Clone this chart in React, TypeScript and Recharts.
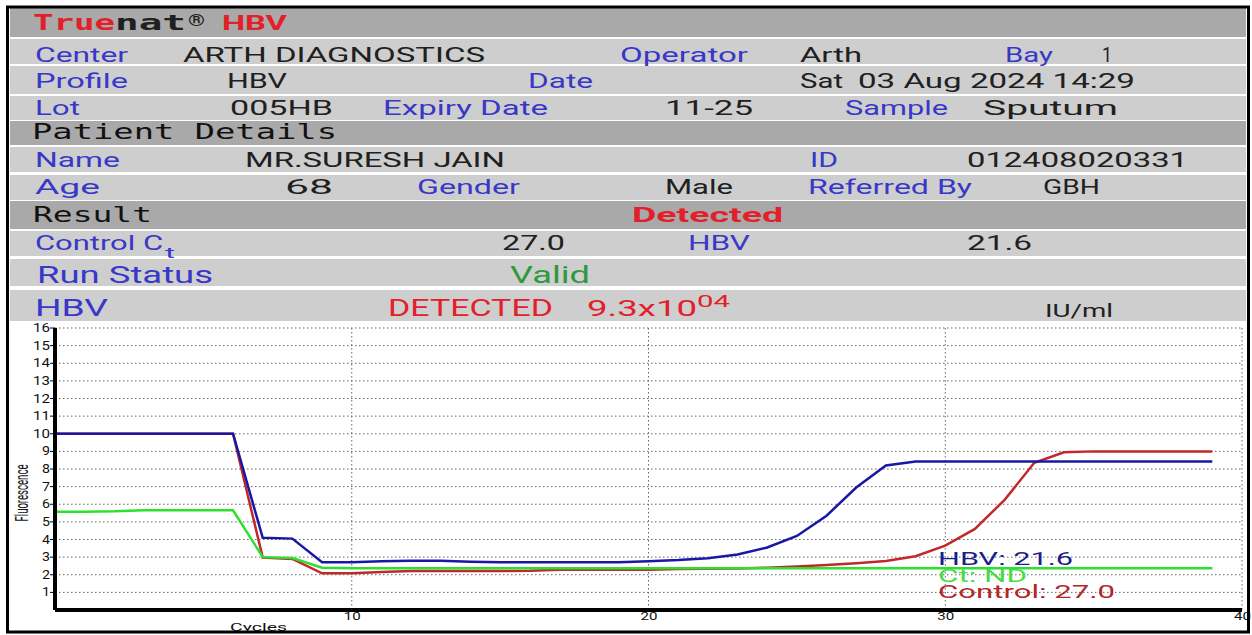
import { LineChart, Line, XAxis, YAxis, CartesianGrid } from "recharts";

// amplification curves, one value per cycle
const cycles = [
  0, 1, 2, 3, 4, 5, 6, 7, 8, 9, 10, 11, 12, 13, 14, 15, 16, 17, 18, 19,
  20, 21, 22, 23, 24, 25, 26, 27, 28, 29, 30, 31, 32, 33, 34, 35, 36, 37, 38, 39,
];
const hbv = [
  10, 10, 10, 10, 10, 10, 10, 4.1, 4.05, 2.71, 2.71, 2.76, 2.8, 2.8, 2.74, 2.71, 2.71, 2.71, 2.71, 2.71,
  2.76, 2.83, 2.94, 3.15, 3.55, 4.2, 5.35, 6.95, 8.2, 8.43, 8.43, 8.43, 8.43, 8.43, 8.43, 8.43, 8.43, 8.43, 8.43, 8.43,
];
const control = [
  10, 10, 10, 10, 10, 10, 10, 2.97, 2.9, 2.08, 2.08, 2.16, 2.21, 2.21, 2.21, 2.21, 2.22, 2.29, 2.29, 2.29,
  2.29, 2.32, 2.34, 2.36, 2.4, 2.47, 2.55, 2.65, 2.78, 3.05, 3.65, 4.6, 6.25, 8.35, 8.95, 9, 9, 9, 9, 9,
];
const ctNd = [
  5.58, 5.58, 5.6, 5.66, 5.66, 5.66, 5.66, 3.0, 2.95, 2.4, 2.37, 2.37, 2.37, 2.37, 2.37, 2.37, 2.37, 2.37, 2.37, 2.37,
  2.37, 2.37, 2.37, 2.37, 2.37, 2.37, 2.37, 2.37, 2.37, 2.37, 2.37, 2.37, 2.37, 2.37, 2.37, 2.37, 2.37, 2.37, 2.37, 2.37,
];
const yTicks = [1, 2, 3, 4, 5, 6, 7, 8, 9, 10, 11, 12, 13, 14, 15, 16];
const xTicks = [10, 20, 30, 40];

const rows = cycles.map((c, i) => ({ cycle: c, hbv: hbv[i], control: control[i], ct: ctNd[i] }));

const SANS = "Roboto, 'Liberation Sans', sans-serif";
const MONO = "'DejaVu Sans Mono', 'Liberation Mono', monospace";
const BLUE = "#3838c8";
const INK = "#202020";
const RED = "#e2202a";
const GREEN = "#2e9a3c";

// header bands: top, bottom, dark?
const bands: [number, number, boolean][] = [
  [8, 37, true], [39, 64, false], [66, 94, false], [96, 120, false], [121, 145, true],
  [147, 172, false], [175, 200, false], [201, 229, true], [231, 256, false], [259, 286, false], [290, 321, false],
];

type Cell = { t: string; x: number; w: number; y: number; c: string; s?: number; f?: string; b?: boolean };

const cells: Cell[] = [
  { t: "True", x: 33, w: 82, y: 30, c: RED, f: MONO, b: true },
  { t: "nat", x: 115, w: 71, y: 30, c: INK, f: MONO, b: true },
  { t: "®", x: 188, w: 17, y: 26, c: INK, s: 16, b: true },
  { t: "HBV", x: 222, w: 65, y: 30, c: RED, b: true },

  { t: "Center", x: 35, w: 93, y: 62, c: BLUE },
  { t: "ARTH DIAGNOSTICS", x: 183, w: 302, y: 62, c: INK },
  { t: "Operator", x: 620, w: 128, y: 62, c: BLUE },
  { t: "Arth", x: 800, w: 62, y: 62, c: INK },
  { t: "Bay", x: 1005, w: 48, y: 62, c: BLUE },
  { t: "1", x: 1102, w: 10, y: 62, c: INK },

  { t: "Profile", x: 35, w: 93, y: 88, c: BLUE },
  { t: "HBV", x: 227, w: 60, y: 88, c: INK },
  { t: "Date", x: 528, w: 65, y: 88, c: BLUE },
  { t: "Sat", x: 800, w: 43, y: 88, c: INK },
  { t: "03 Aug 2024 14:29", x: 858, w: 277, y: 88, c: INK },

  { t: "Lot", x: 35, w: 45, y: 115, c: BLUE },
  { t: "005HB", x: 230, w: 103, y: 115, c: INK },
  { t: "Expiry Date", x: 383, w: 165, y: 115, c: BLUE },
  { t: "11-25", x: 665, w: 88, y: 115, c: INK },
  { t: "Sample", x: 845, w: 103, y: 115, c: BLUE },
  { t: "Sputum", x: 983, w: 135, y: 115, c: INK },

  { t: "Patient Details", x: 32, w: 305, y: 139, c: "#111", f: MONO },

  { t: "Name", x: 35, w: 85, y: 167, c: BLUE },
  { t: "MR.SURESH JAIN", x: 245, w: 260, y: 167, c: INK },
  { t: "ID", x: 810, w: 28, y: 167, c: BLUE },
  { t: "012408020331", x: 967, w: 221, y: 167, c: INK },

  { t: "Age", x: 35, w: 65, y: 194, c: BLUE },
  { t: "68", x: 285, w: 48, y: 194, c: INK },
  { t: "Gender", x: 417, w: 103, y: 194, c: BLUE },
  { t: "Male", x: 665, w: 68, y: 194, c: INK },
  { t: "Referred By", x: 808, w: 164, y: 194, c: BLUE },
  { t: "GBH", x: 1043, w: 57, y: 194, c: INK },

  { t: "Result", x: 33, w: 119, y: 222, c: "#111", f: MONO },
  { t: "Detected", x: 632, w: 151, y: 222, c: RED, b: true },

  { t: "Control C", x: 35, w: 128, y: 250, c: BLUE },
  { t: "t", x: 165, w: 10, y: 258, c: BLUE, s: 15 },
  { t: "27.0", x: 502, w: 63, y: 250, c: INK },
  { t: "HBV", x: 688, w: 62, y: 250, c: BLUE },
  { t: "21.6", x: 967, w: 65, y: 250, c: INK },

  { t: "Run Status", x: 37, w: 176, y: 283, c: BLUE, s: 24 },
  { t: "Valid", x: 510, w: 80, y: 283, c: GREEN, s: 24 },

  { t: "HBV", x: 35, w: 73, y: 316, c: BLUE, s: 24 },
  { t: "DETECTED", x: 388, w: 165, y: 316, c: RED, s: 23 },
  { t: "9.3x10", x: 587, w: 110, y: 316, c: RED, s: 22 },
  { t: "04", x: 697, w: 33, y: 307, c: RED, s: 17 },
  { t: "IU/ml", x: 1045, w: 68, y: 317, c: INK, s: 18 },

  // curve labels inside the plot
  { t: "HBV: 21.6", x: 938, w: 135, y: 565, c: "#1c1c8c", s: 19 },
  { t: "Ct: ND", x: 938, w: 89, y: 582, c: "#45dd45", s: 19 },
  { t: "Control: 27.0", x: 938, w: 177, y: 598, c: "#b3262a", s: 19 },
  { t: "Cycles", x: 230, w: 57, y: 631, c: "#111", s: 11 },
];

function YTick({ x, y, payload }: any) {
  const w = String(payload.value).length > 1 ? 17 : 8;
  return (
    <text x={x - w} y={y + 4} fontSize={12} fontFamily={SANS} fill="#111"
      textLength={w} lengthAdjust="spacingAndGlyphs">
      {payload.value}
    </text>
  );
}

function XTick({ x, y, payload }: any) {
  return (
    <text x={x - 8} y={y + 10} fontSize={11} fontFamily={SANS} fill="#111"
      textLength={17} lengthAdjust="spacingAndGlyphs">
      {payload.value}
    </text>
  );
}

export default function App() {
  return (
    <div style={{ position: "absolute", left: 0, top: 0, width: 1252, height: 635, background: "#fff" }}>
      <div style={{ position: "absolute", left: 0, top: 0 }}>
        <LineChart width={1252} height={635} data={rows} margin={{ top: 328, right: 10, bottom: 0, left: 0 }}>
          <CartesianGrid stroke="#666" strokeDasharray="1.5 2.5" />
          <XAxis type="number" dataKey="cycle" domain={[0, 40]} ticks={xTicks} height={25}
            axisLine={{ stroke: "#000", strokeWidth: 4 }} tickLine={false} tickSize={0} tickMargin={0} tick={XTick} />
          <YAxis type="number" domain={[0, 16]} ticks={yTicks} width={55} interval={0}
            axisLine={{ stroke: "#000", strokeWidth: 4 }} tickLine={{ stroke: "#000" }} tickSize={5} tickMargin={0} tick={YTick} />
          <Line type="linear" dataKey="control" stroke="#c0282c" strokeWidth={2.5} dot={false} isAnimationActive={false} />
          <Line type="linear" dataKey="ct" stroke="#2ee02e" strokeWidth={2.5} dot={false} isAnimationActive={false} />
          <Line type="linear" dataKey="hbv" stroke="#1818a4" strokeWidth={2.5} dot={false} isAnimationActive={false} />
        </LineChart>
      </div>
      <svg width={1252} height={635} style={{ position: "absolute", left: 0, top: 0, pointerEvents: "none" }}>
        {bands.map(([y0, y1, dark], i) => (
          <rect key={i} x={10} y={y0} width={1236} height={y1 - y0} fill={dark ? "#a9a9a9" : "#cecece"} />
        ))}
        {cells.map((c, i) => (
          <text key={i} x={c.x} y={c.y} fill={c.c} fontSize={c.s ?? 21} fontFamily={c.f ?? SANS}
            fontWeight={c.b ? 700 : 400} textLength={c.w} lengthAdjust="spacingAndGlyphs">
            {c.t}
          </text>
        ))}
        <text transform="translate(28,493) rotate(-90) scale(1,1.7)" textAnchor="middle" fontSize={11}
          fontFamily={SANS} fill="#111" textLength={57} lengthAdjust="spacingAndGlyphs">
          Fluorescence
        </text>
        <rect x={7.5} y={7} width={1241} height={625} fill="none" stroke="#000" strokeWidth={3} />
      </svg>
    </div>
  );
}
